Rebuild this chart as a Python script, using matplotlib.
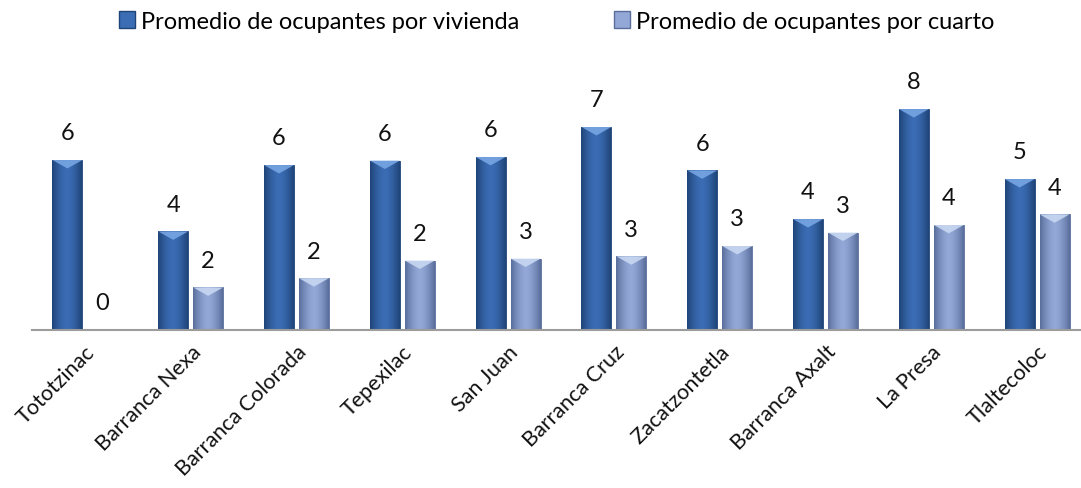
import numpy as np
import matplotlib.pyplot as plt
from matplotlib.patches import Patch, Polygon
from matplotlib.colors import to_rgb

plt.rcParams['font.family'] = ['Lato', 'DejaVu Sans']

# Data
localidades = ['Tototzinac', 'Barranca Nexa', 'Barranca Colorada', 'Tepexilac', 'San Juan',
               'Barranca Cruz', 'Zacatzontetla', 'Barranca Axalt', 'La Presa', 'Tlaltecoloc']
por_vivienda = [6.07, 3.52, 5.89, 6.05, 6.18, 7.25, 5.70, 3.96, 7.89, 5.39]
por_cuarto = [0.0, 1.52, 1.85, 2.48, 2.55, 2.63, 3.00, 3.48, 3.75, 4.13]
series_labels = ['Promedio de ocupantes por vivienda', 'Promedio de ocupantes por cuarto']

# (edge colour, centre colour, top bevel colour)
styles = [('#1f4478', '#3b6db5', '#78a6e4'),
          ('#5a6e9c', '#93a8d6', '#c8d8f2')]

fig = plt.figure(figsize=(10.81, 4.89), dpi=100)
ax = fig.add_axes([32/1081, 158/489, 1058/1081, 266/489])

x = np.arange(len(localidades))
w = 0.2835
off = 0.165


def shade_bars(bars, edge, centre, top):
    e = np.array(to_rgb(edge))
    c = np.array(to_rgb(centre))
    t = np.linspace(0, 1, 64)
    f = np.abs(2 * t - 1) ** 1.6
    grad = (c[None, :] * (1 - f[:, None]) + e[None, :] * f[:, None])[None, :, :]
    for b in bars:
        bx, by, bw, bh = b.get_x(), b.get_y(), b.get_width(), b.get_height()
        if bh <= 0:
            continue
        im = ax.imshow(grad, extent=(bx, bx + bw, by, by + bh), aspect='auto',
                       zorder=2, interpolation='bicubic')
        im.set_clip_path(b)
        d = min(0.3, bh)
        tri = Polygon([(bx, by + bh), (bx + bw, by + bh), (bx + bw / 2, by + bh - d)],
                      closed=True, facecolor=top, edgecolor='none', alpha=0.9, zorder=3)
        ax.add_patch(tri)


b1 = ax.bar(x - off, por_vivienda, w, color=styles[0][1], edgecolor=styles[0][0],
            linewidth=0.6, zorder=1)
b2 = ax.bar(x + off, por_cuarto, w, color=styles[1][1], edgecolor=styles[1][0],
            linewidth=0.6, zorder=1)
shade_bars(b1, *styles[0])
shade_bars(b2, *styles[1])

for bars in (b1, b2):
    ax.bar_label(bars, fmt='%.0f', padding=12, fontsize=17, color='#111111')

ax.set_xlim(-0.5, len(localidades) - 0.5)
ax.set_ylim(0, 9.5)
for s in ['top', 'right', 'left']:
    ax.spines[s].set_visible(False)
ax.spines['bottom'].set_color('#9c9c9c')
ax.spines['bottom'].set_linewidth(1.5)
ax.spines['bottom'].set_zorder(4)
ax.set_yticks([])
ax.set_xticks(x)
ax.set_xticklabels(localidades, rotation=45, ha='right', rotation_mode='anchor',
                   fontsize=15.5, color='#111111')
ax.tick_params(axis='x', length=0, pad=8)

handles = [Patch(facecolor=styles[0][1], edgecolor=styles[0][0]),
           Patch(facecolor=styles[1][1], edgecolor=styles[1][0])]
fig.legend(handles, series_labels, loc='upper center', bbox_to_anchor=(0.515, 1.01),
           ncol=2, frameon=False, fontsize=17, handlelength=0.7, handleheight=0.7,
           handletextpad=0.25, columnspacing=4.0, borderaxespad=0.3)

fig.savefig('out.png', dpi=100)
